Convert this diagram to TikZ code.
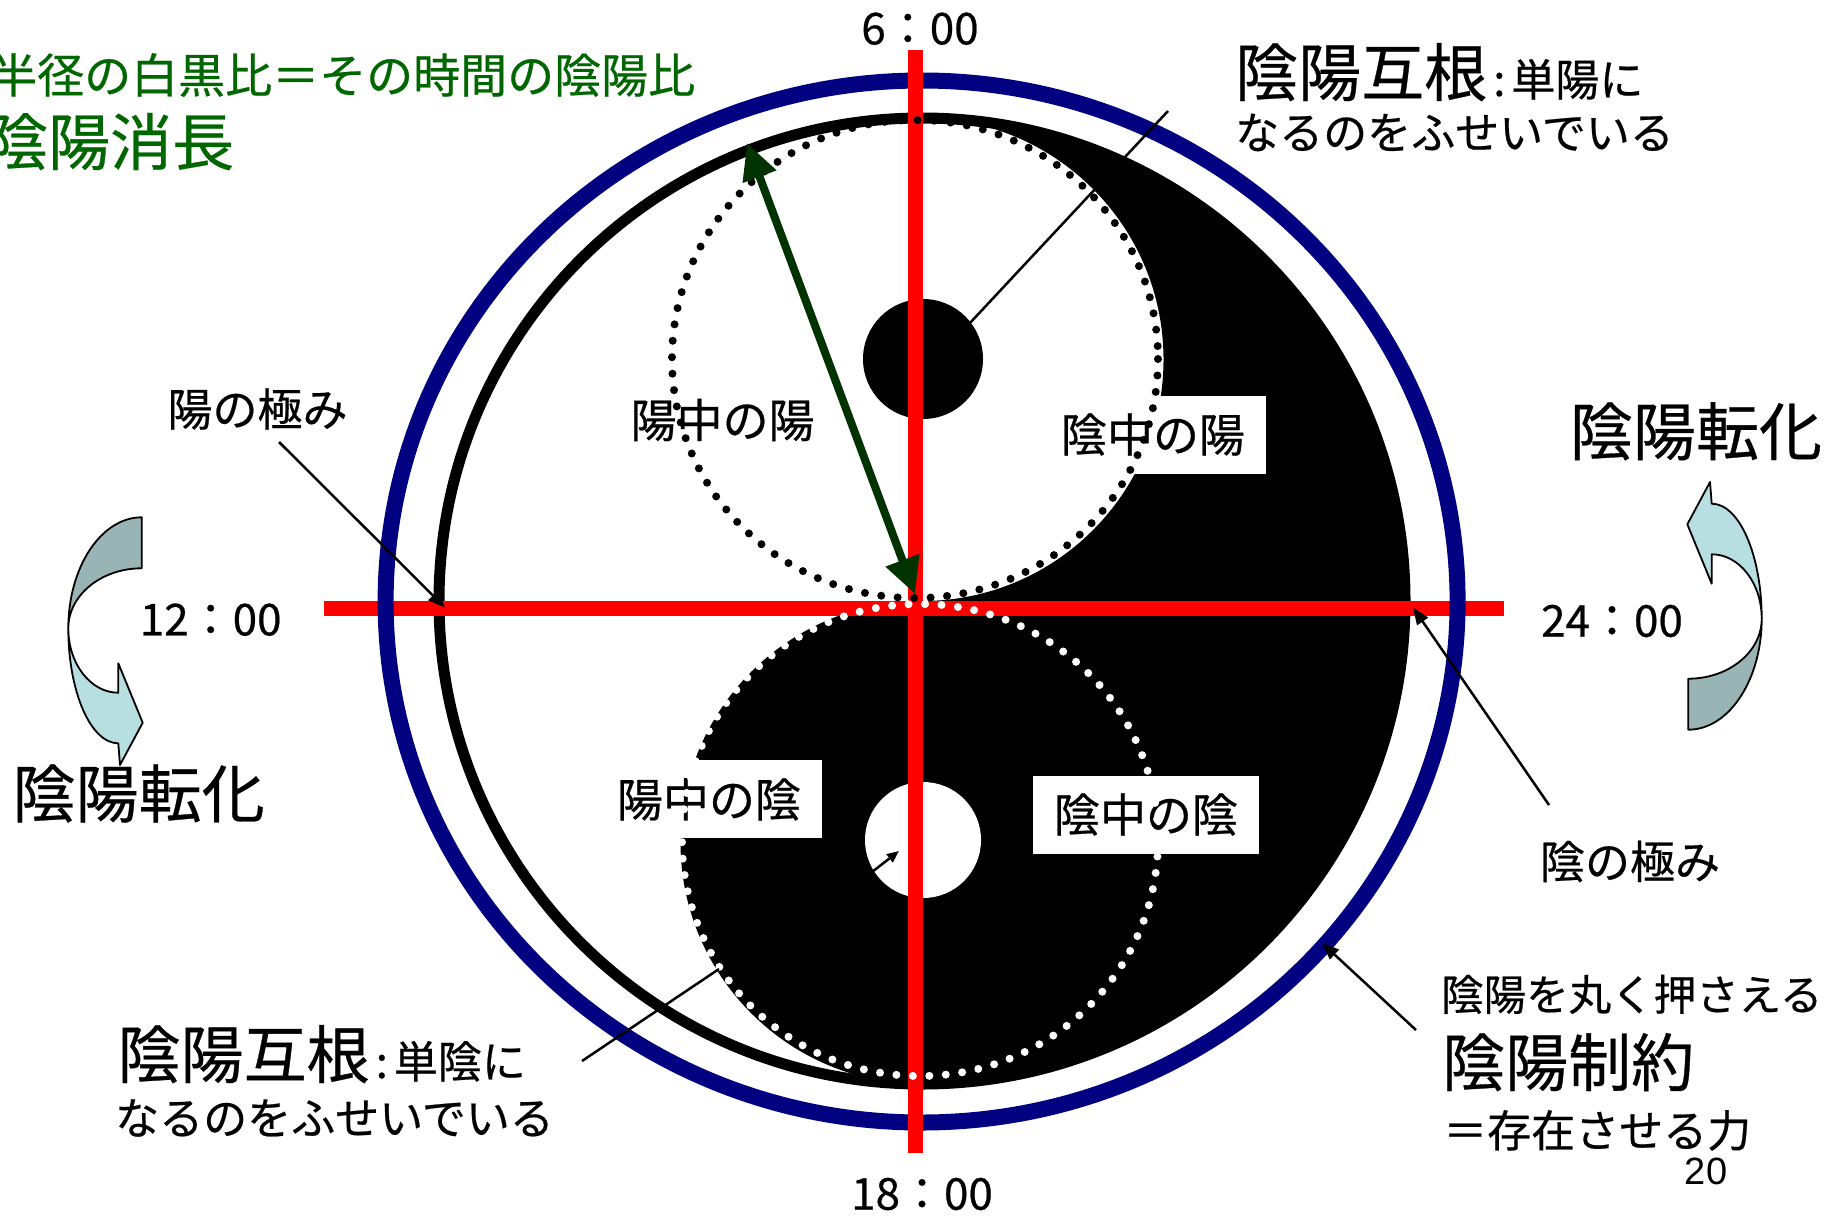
\documentclass[tikz,border=0pt]{standalone}
\usepackage{fontspec}
\newfontfamily\jp[FakeBold=0.5]{Noto Sans CJK JP}
\newfontfamily\arialf{Liberation Sans}
\newcommand{\jfs}[1]{\jp\fontsize{#1}{#1}\selectfont}
\usetikzlibrary{arrows.meta}
\definecolor{navyring}{RGB}{0,0,128}
\definecolor{titlegreen}{RGB}{0,102,0}
\definecolor{arrowgreen}{RGB}{0,51,0}
\definecolor{darkteal}{RGB}{153,180,180}
\definecolor{lightteal}{RGB}{183,223,226}
\newcommand{\turnarrow}{%
  \path[backpart] (141.7,517.3) .. controls (101.2,517.3) and (68.3,567) .. (68.3,628.3)
     .. controls (68.3,595.2) and (101.2,568.3) .. (141.7,568.3) -- cycle;
  \path[frontpart] (68.3,628.3) .. controls (68.3,691.8) and (90.7,743.3) .. (118.3,743.3)
     -- (120,765) -- (142.7,722.7) -- (118.3,663.3) -- (118.3,692.7)
     .. controls (90.7,692.7) and (68.3,663.9) .. (68.3,628.3) -- cycle;}
\begin{document}
\begin{tikzpicture}[x=1pt,y=-1pt,
  lbl/.style={inner sep=0pt, font=\jfs{45}},
  bigl/.style={inner sep=0pt, font=\jfs{63}},
  clock/.style={inner sep=0pt, font=\jfs{44}},
  inbox/.style={fill=white, inner sep=0pt, minimum width=226pt, minimum height=78pt, font=\jfs{46}},
  leader/.style={line width=2.5pt},
  leadarrow/.style={leader, -{Triangle[length=17pt,width=13pt]}},
  redbar/.style={line width=15pt, draw=red},
  dotring/.style={line width=8pt, line cap=round, dash pattern=on 0pt off 16.5pt},
  backpart/.style={fill=darkteal, draw=black, line width=1.8pt, line join=round},
  frontpart/.style={fill=lightteal, draw=black, line width=1.8pt, line join=round}]
\useasboundingbox (0,0) rectangle (1835,1218);

% curved arrows (yin-yang transformation)
\begin{scope}\turnarrow\end{scope}
\begin{scope}[rotate around={180:(915,623.5)}]\turnarrow\end{scope}

% yin-yang
\fill[white] (922,601) circle[radius=483];
\fill[black] (922,118) arc[start angle=-90, end angle=90, radius=483]
  arc[start angle=90, end angle=270, radius=241.5]
  arc[start angle=90, end angle=-90, radius=241.5] -- cycle;
\draw[line width=11pt] (922,601) circle[radius=483];
\fill[black] (923,359) circle[radius=60];
\fill[white] (923,840) circle[radius=58];

% inner labels
\node[inner sep=0pt, font=\jfs{46}] (yy) at (722.6,420) {陽中の陽};
\node[inbox] (inyo) at (1153,434.5) {陰中の陽};
\node[inbox] (yoin) at (709,799.4) {陽中の陰};
\node[inbox] (inin) at (1146,814.5) {陰中の陰};

% blue ring and red axes
\draw[redbar] (324,608.5) -- (1504,608.5);
\draw[navyring, line width=16pt] (921.6,601.5) ellipse[x radius=536, y radius=521];
\draw[redbar] (915,50) -- (915,1153);

% dotted half-circles
\draw[dotring, black] (915,359) ellipse[x radius=243, y radius=239];
\draw[dotring, white] (920,840) ellipse[x radius=238, y radius=236];

% green radius arrow
\coordinate (gc) at (915,594);
\coordinate (gt) at (747,143);
\draw[arrowgreen, line width=8pt, {Triangle[length=36pt,width=34pt]}-{Triangle[length=36pt,width=34pt]}] (gc) -- (gt);

% small arrow in white dot
\coordinate (sa) at (872,872);
\coordinate (sb) at (899,851);
\draw[line width=2.5pt, -{Triangle[length=12pt,width=10pt]}] (sa) -- (sb);

% leader lines
\coordinate (k1p) at (1168,111);
\coordinate (k1q) at (969,324);
\draw[leader] (k1p) -- (k1q);
\coordinate (k2p) at (582,1061);
\coordinate (k2q) at (719,969);
\draw[leader] (k2p) -- (k2q);
\coordinate (yka) at (279,442);
\coordinate (ykb) at (445,607.5);
\draw[leadarrow] (yka) -- (ykb);
\coordinate (ika) at (1549,805);
\coordinate (ikb) at (1413,607.5);
\draw[leadarrow] (ika) -- (ikb);
\coordinate (sya) at (1416,1030);
\coordinate (syb) at (1322,943);
\draw[leadarrow] (sya) -- (syb);

% titles
\node[anchor=west, inner sep=0pt, text=titlegreen, font=\jfs{47}] (t1) at (-10,75) {半径の白黒比＝その時間の陰陽比};
\node[anchor=west, inner sep=0pt, text=titlegreen, font=\jfs{62}] (t2) at (-14,141.6) {陰陽消長};

% clock labels
\node[clock] (c6) at (920,28.7) {6：00};
\node[clock] (c18) at (922,1194) {18：00};
\node[clock] (c12) at (210.7,619.7) {12：00};
\node[clock] (c24) at (1612,621) {24：00};

% other labels
\node[lbl] (yangk) at (257.5,409) {陽の極み};
\node[lbl] (yink) at (1630,861.5) {陰の極み};
\node[bigl] (tenR) at (1696,431.3) {陰陽転化};
\node[bigl] (tenL) at (138.7,793.5) {陰陽転化};

\node[anchor=base west, inner sep=0pt] (kon1a) at (1235,96) {\jfs{63}陰陽互根\jfs{44}\hspace{6pt}:\hspace{6pt}単陽に};
\node[anchor=base west, inner sep=0pt, font=\jfs{44}] (kon1b) at (1235,149) {なるのをふせいでいる};
\node[anchor=base west, inner sep=0pt] (kon2a) at (117.5,1078) {\jfs{63}陰陽互根\jfs{44}\hspace{6pt}:\hspace{6pt}単陰に};
\node[anchor=base west, inner sep=0pt, font=\jfs{44}] (kon2b) at (115,1134.5) {なるのをふせいでいる};

\node[anchor=base west, inner sep=0pt, font=\jfs{42.5}] (osa) at (1441,1010.5) {陰陽を丸く押さえる};
\node[anchor=base west, inner sep=0pt, font=\jfs{63}] (sei) at (1442,1086) {陰陽制約};
\node[anchor=base west, inner sep=0pt, font=\jfs{44}] (son) at (1443,1147) {＝存在させる力};
\node[inner sep=0pt, font=\arialf\fontsize{38}{38}\selectfont] (pg) at (1706,1171.5) {20};
\end{tikzpicture}
\end{document}
